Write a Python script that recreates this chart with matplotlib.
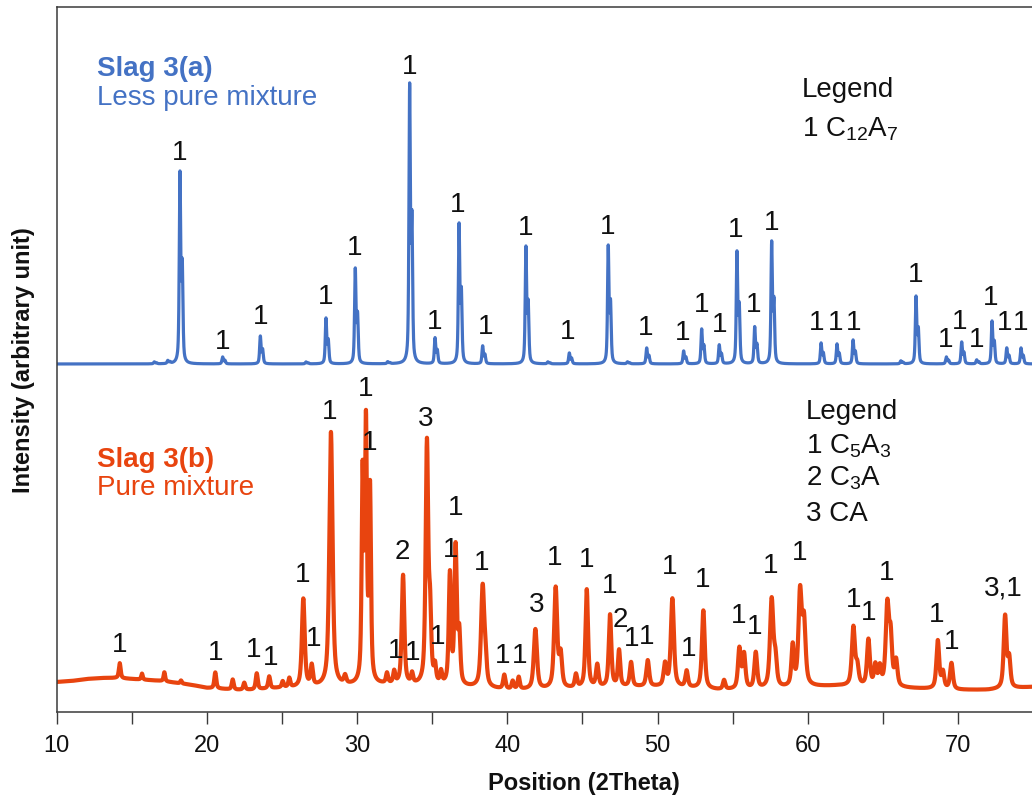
import numpy as np
import matplotlib
matplotlib.use("Agg")
import matplotlib.pyplot as plt
from matplotlib.ticker import MultipleLocator

plt.rcParams['font.family'] = ['Liberation Sans', 'DejaVu Sans']
plt.rcParams['mathtext.fontset'] = 'custom'
plt.rcParams['mathtext.rm'] = 'Liberation Sans'
plt.rcParams['mathtext.it'] = 'Liberation Sans:italic'
plt.rcParams['mathtext.bf'] = 'Liberation Sans:bold'

BLUE = '#4472C4'
ORANGE = '#E8440F'
INK = '#111111'

# ---------------- Slag 3(a): less pure mixture (C12A7) ----------------
slag_a_baseline = 348
slag_a_pos = [16.5, 17.4, 18.21, 21.05, 23.56, 26.6, 27.93, 29.88, 32.04, 33.50,
              35.19, 36.79, 38.36, 41.24, 42.7, 44.13, 46.72, 48.0, 49.28, 51.74,
              52.94, 54.11, 55.29, 56.47, 57.60, 60.89, 61.95, 63.02, 66.2, 67.21,
              69.23, 70.25, 71.25, 72.27, 73.25, 74.20]
slag_a_int = [2, 3, 193, 7, 28, 2, 46, 96, 2, 281,
              26, 141, 18, 118, 2, 11, 119, 2, 16, 13,
              35, 19, 113, 37, 123, 21, 20, 24, 3, 68,
              7, 22, 4, 43, 16, 16]

# peak-label anchors (2theta, intensity) for Slag 3(a)
slag_a_lab_x = [18.21, 21.05, 23.56, 27.93, 29.86, 33.50, 35.19, 36.70, 38.58, 41.24,
                44.02, 46.70, 49.23, 51.68, 52.94, 54.11, 55.23, 56.38, 57.60, 60.62,
                61.88, 63.06, 67.21, 69.21, 70.12, 71.25, 72.20, 73.13, 74.15]
slag_a_lab_y = [560, 371, 396, 416, 465, 646, 391, 508, 386, 485,
                381, 486, 385, 380, 408, 388, 483, 408, 490, 390,
                390, 390, 438, 373, 391, 373, 415, 390, 390]

# ---------------- Slag 3(b): pure mixture (C5A3, C3A, CA) ----------------
slag_b_bg_pos = [10, 11, 12, 13, 14, 15, 16, 17, 18, 19, 20, 21, 22, 23, 24, 25, 26,
                 28, 30, 32, 34, 36, 38, 40, 42, 44, 46, 48, 50, 52, 54, 56, 58, 60,
                 62, 64, 66, 68, 70, 72, 74, 75]
slag_b_bg_int = [30, 31, 33, 34, 34, 33, 32, 31, 29, 27, 24, 23, 22, 22, 23, 24, 24,
                 25, 26, 27, 26, 25, 24, 22, 22, 23, 24, 25, 25, 24, 22, 22, 23, 25,
                 26, 25, 24, 23, 22, 22, 24, 25]

slag_b_pos = [14.2, 15.68, 17.17, 18.28, 20.56, 21.72, 22.49, 23.32, 24.15, 25.05,
              25.49, 26.42, 26.98, 28.26, 29.2, 30.37, 30.59, 30.86, 31.99, 32.47,
              33.06, 33.66, 34.65, 34.86, 35.19, 35.59, 36.18, 36.56, 36.80, 38.36,
              38.55, 39.80, 40.36, 40.76, 41.87, 43.22, 43.55, 44.57, 45.29, 45.99,
              46.84, 47.44, 48.24, 49.35, 50.50, 50.99, 51.94, 53.05, 54.43, 55.45,
              55.76, 56.54, 57.60, 57.85, 59.0, 59.49, 59.75, 63.04, 63.3, 64.04,
              64.5, 64.8, 65.30, 65.52, 65.88, 68.66, 69.0, 69.57, 73.14, 73.41]
slag_b_int = [15, 6, 9, 3, 16, 10, 7, 16, 12, 6,
              9, 88, 20, 254, 8, 205, 252, 190, 10, 12,
              109, 10, 240, 65, 16, 12, 110, 136, 50, 100,
              22, 14, 8, 12, 60, 100, 32, 13, 98, 22,
              72, 36, 24, 26, 22, 88, 16, 78, 9, 40,
              34, 36, 88, 26, 40, 92, 62, 58, 18, 46,
              20, 18, 80, 46, 25, 48, 16, 26, 72, 28]
slag_b_fwhm = [0.14, 0.12, 0.12, 0.12, 0.15, 0.15, 0.15, 0.16, 0.16, 0.15,
               0.15, 0.22, 0.18, 0.25, 0.18, 0.15, 0.15, 0.15, 0.16, 0.16,
               0.20, 0.16, 0.20, 0.18, 0.16, 0.16, 0.18, 0.18, 0.18, 0.25,
               0.20, 0.18, 0.16, 0.16, 0.25, 0.24, 0.22, 0.18, 0.20, 0.20,
               0.20, 0.18, 0.20, 0.22, 0.22, 0.24, 0.20, 0.22, 0.18, 0.22,
               0.22, 0.22, 0.26, 0.22, 0.20, 0.25, 0.25, 0.24, 0.22, 0.22,
               0.20, 0.20, 0.25, 0.22, 0.22, 0.22, 0.20, 0.22, 0.22, 0.20]

# peak labels for Slag 3(b): text, 2theta, intensity
slag_b_lab_txt = ['1', '1', '1', '1', '1', '1', '1', '1', '1', '2',
                  '1', '1', '3', '1', '1', '1', '1', '1', '1', '3',
                  '1', '1', '1', '2', '1', '1', '1', '1', '1', '1',
                  '1', '1', '1', '1', '1', '1', '1', '1', '3,1']
slag_b_lab_x = [14.17, 20.56, 23.14, 24.22, 26.38, 27.08, 28.20, 30.57, 30.86, 33.01,
                32.55, 33.72, 34.59, 35.37, 36.23, 36.58, 38.29, 39.72, 40.80, 41.96,
                43.13, 45.29, 46.84, 47.55, 48.30, 49.28, 50.83, 52.05, 53.01, 55.38,
                56.49, 57.54, 59.49, 63.04, 64.04, 65.22, 68.59, 69.59, 73.02]
slag_b_lab_y = [68, 60, 63, 55, 138, 74, 301, 324, 270, 161,
                62, 60, 294, 76, 163, 205, 150, 57, 57, 108,
                155, 153, 127, 93, 74, 76, 146, 64, 133, 97,
                86, 147, 160, 113, 100, 140, 98, 71, 124]


def pseudo_voigt(x, center, fwhm, eta):
    d2 = 4.0 * (x - center) ** 2 / fwhm ** 2
    return eta / (1.0 + d2) + (1.0 - eta) * np.exp(-np.log(2.0) * d2)


two_theta = np.arange(10.0, 75.01, 0.01)

# Slag 3(a): sharp K-alpha1/K-alpha2 doublets on a flat offset baseline,
# scaled so that each listed intensity is the height of the doublet's top
KA2_SHIFT, KA2_RATIO, A_FWHM, A_ETA = 0.15, 0.5, 0.11, 0.55
doublet_top = 1.0 + KA2_RATIO * pseudo_voigt(0.0, KA2_SHIFT, A_FWHM, A_ETA)
trace_a = np.full_like(two_theta, float(slag_a_baseline))
for p, a in zip(slag_a_pos, slag_a_int):
    shape = (pseudo_voigt(two_theta, p, A_FWHM, A_ETA)
             + KA2_RATIO * pseudo_voigt(two_theta, p + KA2_SHIFT, A_FWHM, A_ETA))
    trace_a += a * shape / doublet_top

# Slag 3(b): broader reflections on a slowly varying background
trace_b = np.interp(two_theta, slag_b_bg_pos, slag_b_bg_int).astype(float)
for p, a, w in zip(slag_b_pos, slag_b_int, slag_b_fwhm):
    trace_b += a * pseudo_voigt(two_theta, p, w, 0.65)

fig = plt.figure(figsize=(10.32, 8.04), dpi=100)
ax = fig.add_axes([0.0549, 0.1132, 0.9451, 0.8769])

ax.plot(two_theta, trace_a, color=BLUE, lw=2.3, solid_joinstyle='round')
ax.plot(two_theta, trace_b, color=ORANGE, lw=3.0, solid_joinstyle='round')

ax.set_xlim(10, 74.93)
ax.set_ylim(0, 705)

lab_fs = 20
for x, y in zip(slag_a_lab_x, slag_a_lab_y):
    ax.text(x, y, '1', fontsize=lab_fs, color=INK, ha='center', va='center')
for t, x, y in zip(slag_b_lab_txt, slag_b_lab_x, slag_b_lab_y):
    ax.text(x, y, t, fontsize=lab_fs, color=INK, ha='center', va='center')

# sample names
ax.text(12.69, 644, 'Slag 3(a)', fontsize=20, fontweight='bold', color=BLUE, ha='left', va='center')
ax.text(12.69, 615, 'Less pure mixture', fontsize=20, color=BLUE, ha='left', va='center')
ax.text(12.69, 253, 'Slag 3(b)', fontsize=20, fontweight='bold', color=ORANGE, ha='left', va='center')
ax.text(12.69, 225, 'Pure mixture', fontsize=20, color=ORANGE, ha='left', va='center')

# phase keys
ax.text(59.6, 623, 'Legend', fontsize=20, color=INK, ha='left', va='center')
ax.text(59.6, 584, r'1 C$_{12}$A$_{7}$', fontsize=20, color=INK, ha='left', va='center')
ax.text(59.88, 301, 'Legend', fontsize=20, color=INK, ha='left', va='center')
ax.text(59.88, 267, r'1 C$_{5}$A$_{3}$', fontsize=20, color=INK, ha='left', va='center')
ax.text(59.88, 235, r'2 C$_{3}$A', fontsize=20, color=INK, ha='left', va='center')
ax.text(59.88, 199, '3 CA', fontsize=20, color=INK, ha='left', va='center')

ax.spines['right'].set_visible(False)
for s in ('top', 'left', 'bottom'):
    ax.spines[s].set_color('#3a3a3a')
    ax.spines[s].set_linewidth(1.1)

ax.set_xticks(np.arange(10, 71, 10))
ax.xaxis.set_minor_locator(MultipleLocator(5))
ax.set_yticks([])
ax.tick_params(axis='x', which='both', direction='out', length=8.6, width=1.0,
               color='#3a3a3a', labelsize=17, pad=7, labelcolor=INK)

ax.set_xlabel('Position (2Theta)', fontsize=17, fontweight='bold', color=INK)
ax.xaxis.set_label_coords(0.5407, -0.083)
ax.set_ylabel('Intensity (arbitrary unit)', fontsize=17, fontweight='bold', color=INK)
ax.yaxis.set_label_coords(-0.022, 0.5)

fig.savefig('out.png', dpi=100)
